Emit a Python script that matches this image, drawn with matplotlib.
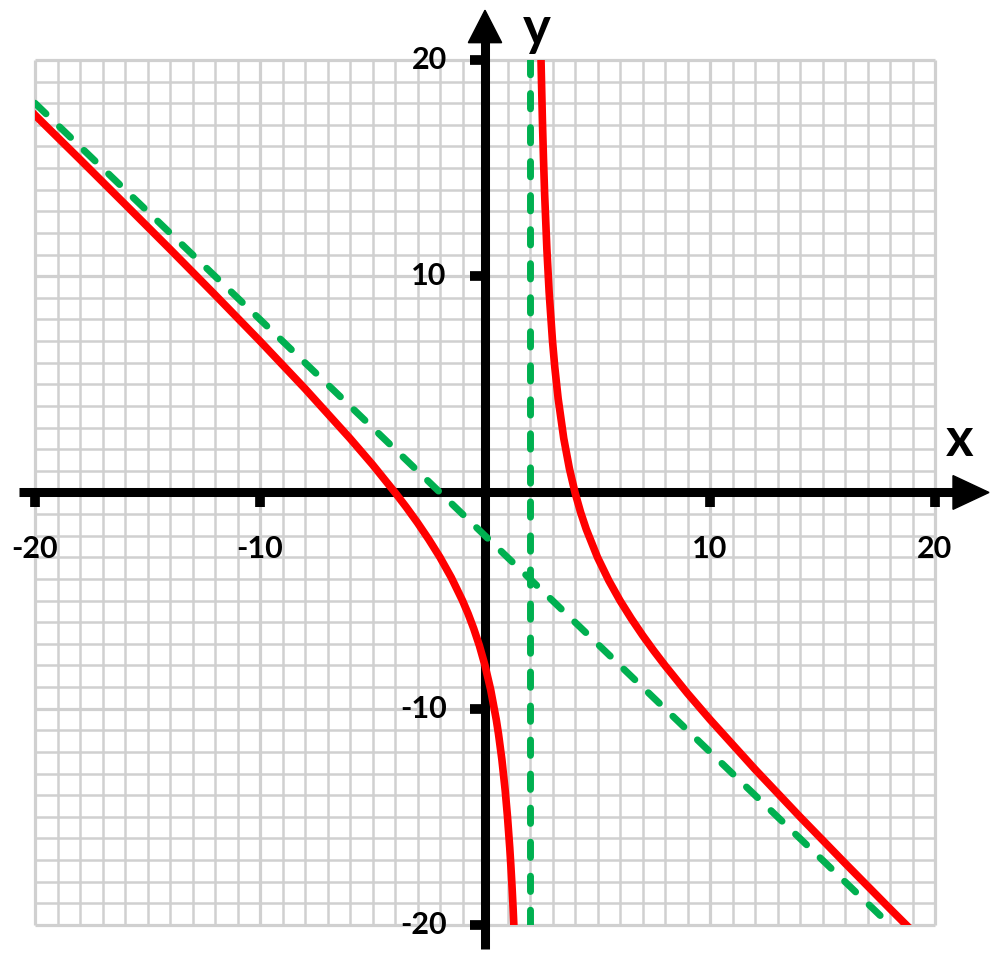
import matplotlib.pyplot as plt

plt.rcParams['font.family'] = ['Lato', 'DejaVu Sans']

# red curve, left branch
left_x = [-20, -18, -16, -14, -12, -10, -8, -6, -5, -4, -3.5, -3, -2.5, -2, -1.5, -1, -0.75,
          -0.5, -0.25, 0, 0.25, 0.5, 0.6, 0.75, 0.9, 1.0, 1.1, 1.15, 1.2, 1.25, 1.3]
left_y = [17.45, 15.4, 13.33, 11.25, 9.14, 7.0, 4.8, 2.5, 1.29, 0, -0.68, -1.4, -2.17, -3.0, -3.93, -5.0, -5.61,
          -6.3, -7.08, -8.0, -9.11, -10.5, -11.17, -12.35, -13.81, -15.0, -16.43, -17.27, -18.2, -19.25, -20.44]

# red curve, right branch
right_x = [2.48, 2.5, 2.55, 2.6, 2.65, 2.75, 2.85, 3, 3.1, 3.25, 3.5, 3.75, 4, 4.25, 4.5, 5, 5.5,
           6, 6.5, 7, 7.5, 8, 9, 10, 12, 14, 16, 18, 19]
right_y = [20.52, 19.5, 17.27, 15.4, 13.81, 11.25, 9.27, 7.0, 5.81, 4.35, 2.5, 1.11, 0, -0.92, -1.7, -3.0, -4.07,
           -5.0, -5.83, -6.6, -7.32, -8.0, -9.29, -10.5, -12.8, -15.0, -17.14, -19.25, -20.29]

# green asymptotes
slant_x = [-20, 20]
slant_y = [18, -22]
vert_x = [2, 2]
vert_y = [-20, 20]

xticks = [-20, -10, 10, 20]
yticks = [-20, -10, 10, 20]

fig = plt.figure(figsize=(10, 9.61), dpi=100)
ax = fig.add_axes([0.035, 0.0375, 0.9, 0.9001])
ax.set_xlim(-20, 20)
ax.set_ylim(-20, 20)
ax.axis('off')

# grid
for v in range(-20, 21):
    lw = 2.3 if v % 10 == 0 else 1.8
    ax.plot([v, v], [-20, 20], color='#d0d0d0', lw=lw, zorder=1, clip_on=False, solid_capstyle='butt')
    ax.plot([-20, 20], [v, v], color='#d0d0d0', lw=lw, zorder=1, clip_on=False, solid_capstyle='butt')

# axes with arrows
ax.plot([-20.7, 20.9], [0, 0], color='black', lw=6.5, zorder=3, clip_on=False, solid_capstyle='butt')
ax.fill([20.8, 20.8, 22.4], [0.78, -0.78, 0], color='black', zorder=3, clip_on=False)
ax.plot([0, 0], [-21.1, 20.9], color='black', lw=6.5, zorder=3, clip_on=False, solid_capstyle='butt')
ax.fill([-0.74, 0.74, 0], [20.8, 20.8, 22.3], color='black', zorder=3, clip_on=False)

for v in xticks:
    ax.plot([v, v], [0, -0.68], color='black', lw=7, zorder=3, clip_on=False, solid_capstyle='butt')
    ax.text(v, -2.6, str(v), ha='center', va='center', fontsize=22, fontweight='bold')
for v in yticks:
    ax.plot([0, -0.65], [v, v], color='black', lw=7, zorder=3, clip_on=False, solid_capstyle='butt')
    ax.text(-1.7, v, str(v), ha='right', va='center', fontsize=22, fontweight='bold')

ax.text(21.1, 2.4, 'x', ha='center', va='center', fontsize=38, fontweight='bold')
ax.text(2.3, 21.4, 'y', ha='center', va='center', fontsize=38, fontweight='bold')

# curves
ax.plot(left_x, left_y, color='#ff0000', lw=5.5, zorder=4)
ax.plot(right_x, right_y, color='#ff0000', lw=5.5, zorder=4)
ax.plot(slant_x, slant_y, color='#00b050', lw=5, zorder=5, dashes=(2.2, 2.7), dash_capstyle='round')
ax.plot(vert_x, vert_y, color='#00b050', lw=5, zorder=5, dashes=(2.2, 2.7), dash_capstyle='round')

plt.savefig('out.png', dpi=100)
